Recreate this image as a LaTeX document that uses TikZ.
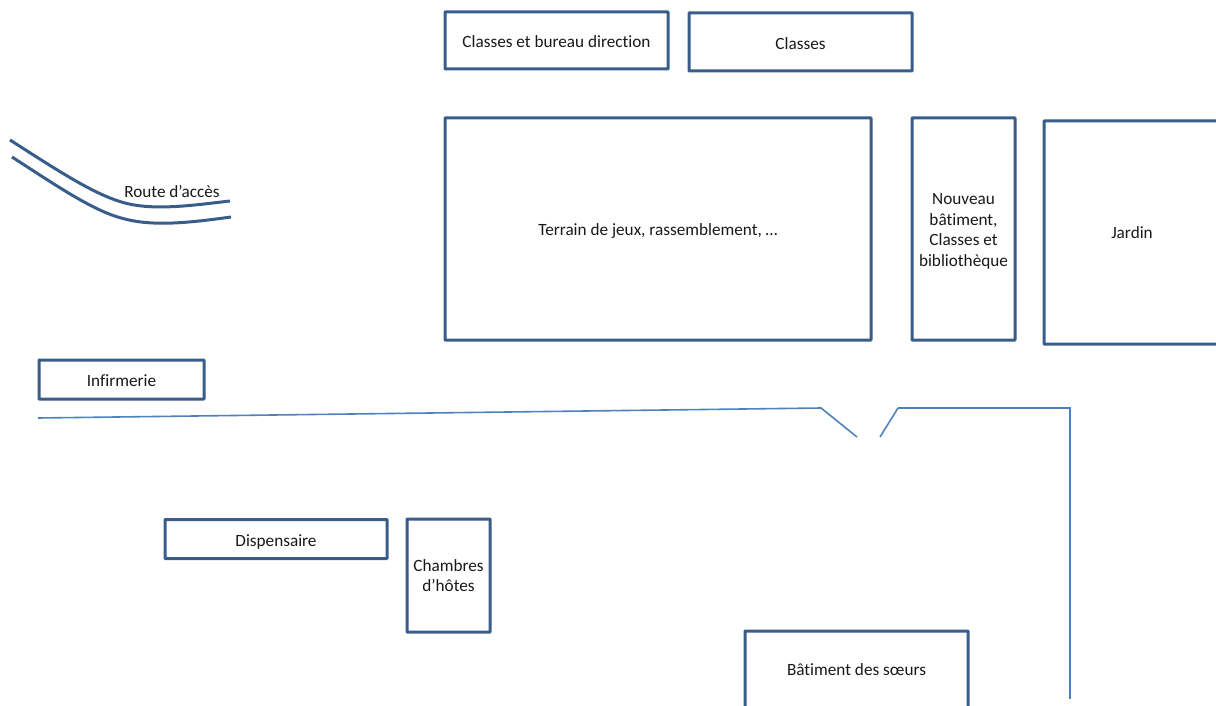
\documentclass[tikz,border=0pt]{standalone}
\usepackage{fontspec}
\setmainfont[Ligatures=NoCommon]{Carlito}
\definecolor{boxblue}{HTML}{385D8A}
\definecolor{wallblue}{HTML}{4F81BD}
\newcommand{\lowered}[2]{\raisebox{-#1pt}[\height][\depth]{#2}}
\tikzset{
  room/.style={draw=boxblue,line width=3pt,fill=white,rounded corners=0.5pt,inner sep=0pt,outer sep=0pt,align=center,font=\fontsize{17.2}{20.5}\selectfont,text=black!90},
  tag/.style={inner sep=0pt,outer sep=0pt,font=\fontsize{17.2}{20.5}\selectfont,text=black!90},
  road/.style={draw=boxblue,line width=3pt},
  wall/.style={draw=wallblue,line width=1.6pt}
}
\begin{document}
\begin{tikzpicture}[x=1pt,y=-1pt]
\useasboundingbox (0,0) rectangle (1216,706);
\clip (0,0) rectangle (1216,706);
% rooms
\node[room,minimum width=223pt,minimum height=57pt] (direction) at (556.5,40.5) {\lowered{1}{Classes et bureau direction}};
\node[room,minimum width=223pt,minimum height=58pt] (classes) at (800.5,42) {\lowered{2}{Classes}};
\node[room,minimum width=426pt,minimum height=222pt] (terrain) at (658,229) {\lowered{2}{Terrain de jeux, rassemblement, \dots}};
\node[room,minimum width=103pt,minimum height=222pt] (nouveau) at (963.5,229) {\lowered{2.5}{\begin{tabular}{@{}c@{}}Nouveau\\bâtiment,\\Classes et\\bibliothèque\end{tabular}}};
\node[room,minimum width=176pt,minimum height=223pt] (jardin) at (1132,232.5) {Jardin};
\node[room,minimum width=165pt,minimum height=39pt] (infirmerie) at (121.5,379.5) {\lowered{1}{Infirmerie}};
\node[room,minimum width=222pt,minimum height=39pt] (dispensaire) at (276,539) {\lowered{2.5}{Dispensaire}};
\node[room,minimum width=83pt,minimum height=113pt] (chambres) at (448.5,575.5) {Chambres\\d’hôtes};
\node[room,minimum width=223pt,minimum height=78pt] (soeurs) at (856.5,670) {Bâtiment des sœurs};
% access road
\coordinate (ra) at (10,140);
\coordinate (rb) at (230,201);
\coordinate (rc) at (12,157);
\coordinate (rd) at (231,217);
\draw[road] (ra) .. controls (60,172) and (95,195) .. (125,203) .. controls (155,211) and (195,205) .. (rb);
\draw[road] (rc) .. controls (60,188) and (95,212) .. (125,219) .. controls (155,227) and (195,222) .. (rd);
\node[tag] (route) at (172,191) {Route d’accès};
% enclosure walls
\coordinate (w1) at (38,418);
\coordinate (w2) at (821,408);
\coordinate (w3) at (857,437);
\coordinate (w4) at (880,437);
\coordinate (w5) at (898,408);
\coordinate (w6) at (1070,408);
\coordinate (w7) at (1070,699);
\draw[wall] (w1) -- (w2) -- (w3);
\draw[wall] (w4) -- (w5);
\draw[wall] (w5) -- (w6) -- (w7);
\end{tikzpicture}
\end{document}
